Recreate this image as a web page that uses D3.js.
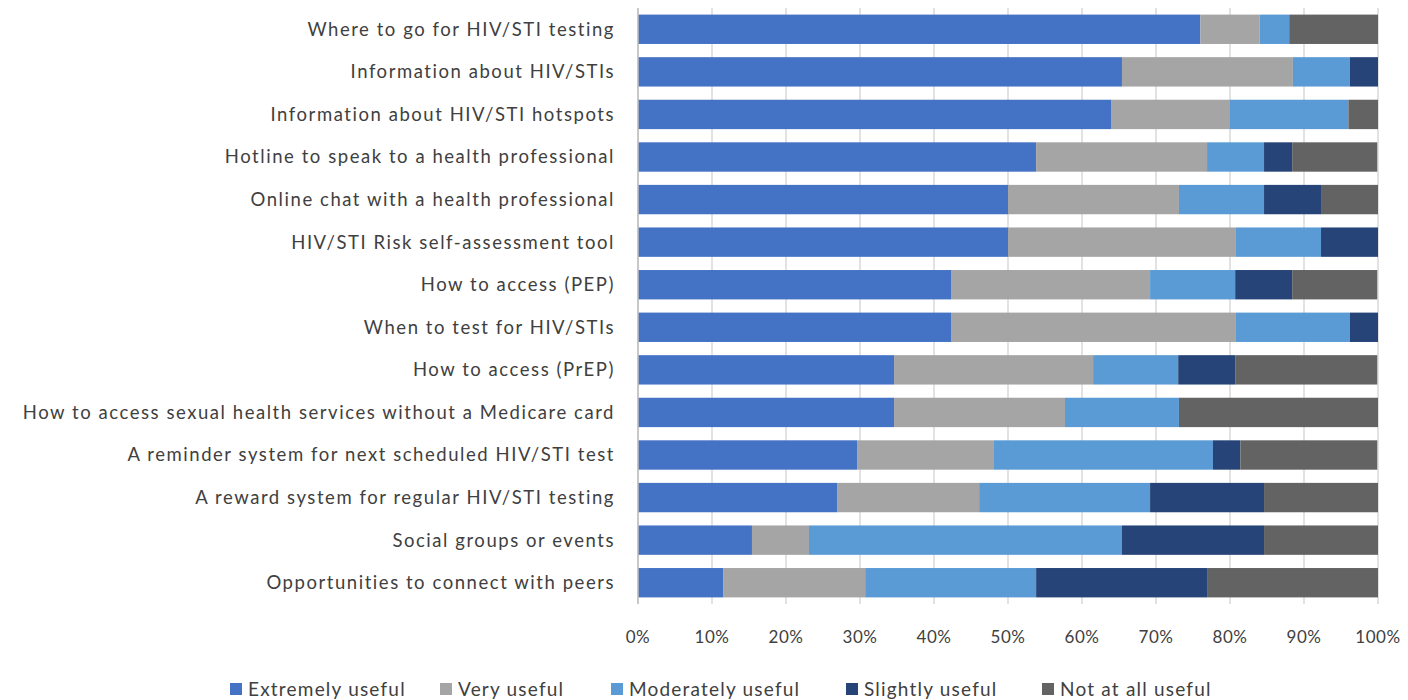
<!DOCTYPE html>
<html>
<head>
<meta charset="utf-8">
<script src="https://cdn.jsdelivr.net/npm/d3@7"></script>
<style>
  body { margin: 0; background: #fff; }
  svg { display: block; font-family: Lato, "Open Sans", sans-serif; }
</style>
</head>
<body>
<div id="chart"></div>
<script>
// categories, top to bottom
var categories = [
    "Where to go for HIV/STI testing",
    "Information about HIV/STIs",
    "Information about HIV/STI hotspots ",
    "Hotline to speak to a health professional",
    "Online chat with a health professional",
    "HIV/STI Risk self-assessment tool",
    "How to access (PEP)",
    "When to test for HIV/STIs",
    "How to access (PrEP)",
    "How to access sexual health services without a Medicare card",
    "A reminder system for next scheduled HIV/STI test",
    "A reward system for regular HIV/STI testing",
    "Social groups or events",
    "Opportunities to connect with peers"
];

var seriesNames = ["Extremely useful", "Very useful", "Moderately useful", "Slightly useful", "Not at all useful"];
var seriesColors = ["#4472c4", "#a5a5a5", "#5b9bd5", "#264478", "#636363"];

// percent of respondents, one array per series
var extremely  = [76.0, 65.4, 64.0, 53.8, 50.0, 50.0, 42.3, 42.3, 34.6, 34.6, 29.6, 26.9, 15.4, 11.5];
var very       = [ 8.0, 23.1, 16.0, 23.1, 23.1, 30.8, 26.9, 38.5, 26.9, 23.1, 18.5, 19.2,  7.7, 19.2];
var moderately = [ 4.0,  7.7, 16.0,  7.7, 11.5, 11.5, 11.5, 15.4, 11.5, 15.4, 29.6, 23.1, 42.3, 23.1];
var slightly   = [ 0.0,  3.8,  0.0,  3.8,  7.7,  7.7,  7.7,  3.8,  7.7,  0.0,  3.7, 15.4, 19.2, 23.1];
var notAtAll   = [12.0,  0.0,  4.0, 11.5,  7.7,  0.0, 11.5,  0.0, 19.2, 26.9, 18.5, 15.4, 15.4, 23.1];

var xTicks = [0, 10, 20, 30, 40, 50, 60, 70, 80, 90, 100];

var width = 1408, height = 700;
var margin = {left: 638, right: 30, top: 8, bottom: 96};

var rows = categories.map(function (c, i) {
    return {
        category: c,
        "Extremely useful": extremely[i],
        "Very useful": very[i],
        "Moderately useful": moderately[i],
        "Slightly useful": slightly[i],
        "Not at all useful": notAtAll[i]
    };
});

var svg = d3.select("#chart").append("svg")
    .attr("width", width)
    .attr("height", height);

var x = d3.scaleLinear().domain([0, 100]).range([margin.left, width - margin.right]);
var y = d3.scaleBand().domain(categories)
    .range([margin.top, height - margin.bottom])
    .paddingInner(0.31).paddingOuter(0.155);
var color = d3.scaleOrdinal().domain(seriesNames).range(seriesColors);

// gridlines
svg.append("g").attr("class", "grid")
    .selectAll("line").data(xTicks).enter().append("line")
    .attr("x1", d => x(d)).attr("x2", d => x(d))
    .attr("y1", margin.top).attr("y2", height - margin.bottom)
    .attr("stroke", "#d9d9d9").attr("stroke-width", 1.5);

var stack = d3.stack().keys(seriesNames);
var layers = stack(rows);

svg.append("g").attr("class", "bars")
    .selectAll("g").data(layers).enter().append("g")
    .attr("fill", d => color(d.key))
    .selectAll("rect").data(d => d).enter().append("rect")
    .attr("x", d => x(d[0]))
    .attr("width", d => x(d[1]) - x(d[0]))
    .attr("y", d => y(d.data.category))
    .attr("height", y.bandwidth());

// left axis line
svg.append("line")
    .attr("x1", x(0)).attr("x2", x(0))
    .attr("y1", margin.top).attr("y2", height - margin.bottom)
    .attr("stroke", "#bfbfbf").attr("stroke-width", 1.5);

// category labels (pdf-ish loose spacing)
svg.append("g").attr("class", "y-labels")
    .selectAll("text").data(categories).enter().append("text")
    .attr("x", x(0) - 23)
    .attr("y", d => y(d) + y.bandwidth() / 2)
    .attr("dy", "0.35em")
    .attr("text-anchor", "end")
    .attr("fill", "#404040")
    .style("font-size", "18.5px")
    .style("letter-spacing", "1.55px")
    .text(d => d);

// x tick labels
svg.append("g").attr("class", "x-labels")
    .selectAll("text").data(xTicks).enter().append("text")
    .attr("x", d => x(d))
    .attr("y", 637)
    .attr("dy", "0.35em")
    .attr("text-anchor", "middle")
    .attr("fill", "#404040")
    .style("font-size", "17px")
    .style("letter-spacing", "0.6px")
    .text(d => d + "%");

// legend
var legendX = [230, 440, 611, 846, 1042];
var legend = svg.append("g").attr("class", "legend")
    .selectAll("g").data(seriesNames).enter().append("g")
    .attr("transform", (d, i) => "translate(" + legendX[i] + ",683)");
legend.append("rect")
    .attr("width", 12).attr("height", 12)
    .attr("fill", d => color(d));
legend.append("text")
    .attr("x", 18).attr("y", 13)
    .attr("fill", "#404040")
    .style("font-size", "19px")
    .style("letter-spacing", "1.2px")
    .text(d => d);
</script>
</body>
</html>
